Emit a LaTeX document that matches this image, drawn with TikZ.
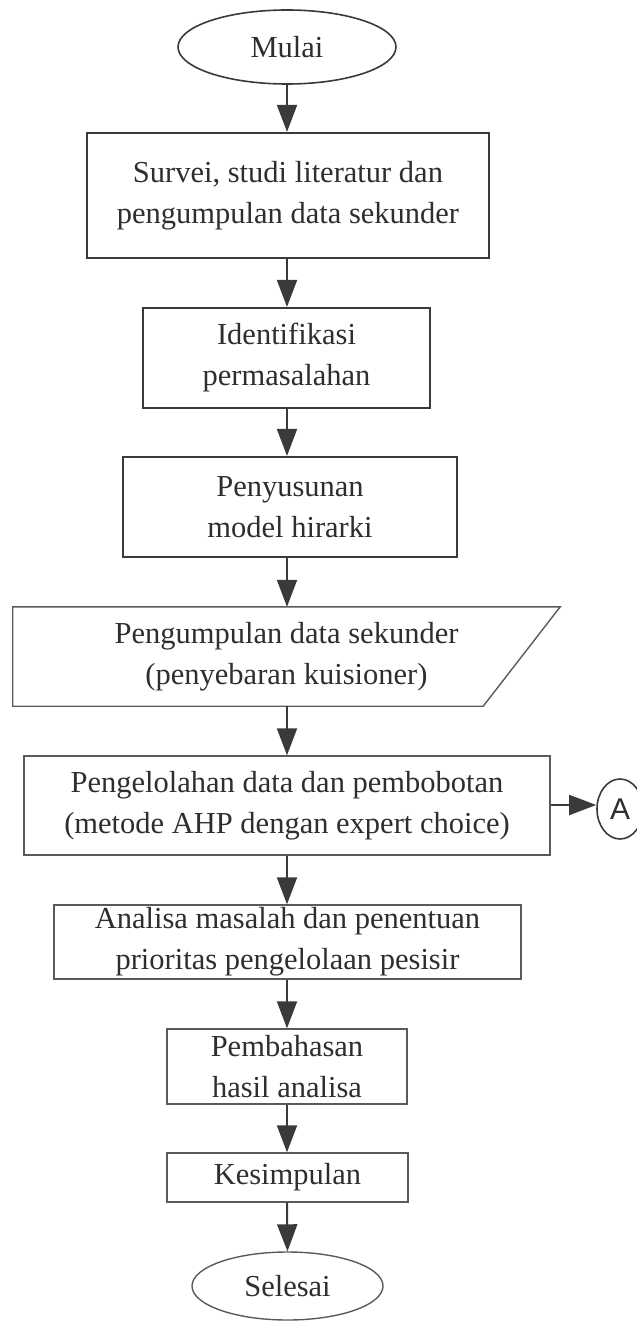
\documentclass[tikz,border=0pt]{standalone}
\usepackage{fontspec}
\setmainfont{Liberation Serif}
\newfontfamily\sansA{Liberation Sans}
\usetikzlibrary{shapes.geometric,arrows.meta,calc}
\definecolor{ink}{HTML}{2E2E2E}
\definecolor{edge}{HTML}{3A3A3A}
\definecolor{edgelight}{HTML}{5A5A5A}
\begin{document}
\begin{tikzpicture}[x=1bp,y=1bp,
  every node/.style={font=\fontsize{30.5bp}{41bp}\selectfont, text=ink, align=center, inner sep=0pt},
  term/.style={ellipse, draw=edge, line width=1.6bp},
  boxA/.style={rectangle, draw=edge, line width=2.2bp},
  boxB/.style={rectangle, draw=edgelight, line width=1.4bp},
  arr/.style={draw=edge, line width=2bp, -{Triangle[length=27bp,width=20bp]}, fill=edge}
]
\useasboundingbox (0,0) rectangle (637,-1322);
% nodes
\node[term, minimum width=218bp, minimum height=74bp] (m) at (287,-47) {Mulai};
\node[boxA, minimum width=402bp, minimum height=125bp] (b1) at (288,-195.5) {Survei, studi literatur dan\\pengumpulan data sekunder};
\node[boxA, minimum width=287bp, minimum height=100bp] (b2) at (286.5,-358) {Identifikasi\\permasalahan};
\node[boxA, minimum width=334bp, minimum height=100bp] (b3) at (290,-507) {Penyusunan\\model hirarki};
\node[minimum width=470bp, minimum height=99bp] (p) at (286.5,-656.5) {Pengumpulan data sekunder\\(penyebaran kuisioner)};
\draw[edgelight, line width=1.4bp] ($(p.north west)+(-38.5,0)$) -- ($(p.north east)+(38.5,0)$) -- ($(p.south east)+(-38.5,0)$) -- ($(p.south west)+(-38.5,0)$) -- cycle;
\node[boxB, minimum width=526bp, minimum height=99bp] (b5) at (287,-805.5) {Pengelolahan data dan pembobotan\\(metode AHP dengan expert choice)};
\node[ellipse, draw=edge, line width=1.6bp, minimum width=46bp, minimum height=60bp, font=\sansA\fontsize{30bp}{36bp}\selectfont] (a) at (620,-809) {A};
\node[boxB, minimum width=467bp, minimum height=74bp] (b6) at (287.5,-942) {Analisa masalah dan penentuan\\prioritas pengelolaan pesisir};
\node[boxB, minimum width=240bp, minimum height=75bp] (b7) at (287,-1066.5) {Pembahasan\\hasil analisa};
\node[boxB, minimum width=241bp, minimum height=49bp] (b8) at (287.5,-1177.5) {Kesimpulan};
\node[ellipse, draw=edgelight, line width=1.4bp, minimum width=191bp, minimum height=68bp] (s) at (287.5,-1286) {Selesai};
% connectors
\draw[arr] (m.south) -- (m.south |- b1.north);
\draw[arr] (b1.south -| m.south) -- (m.south |- b2.north);
\draw[arr] (b2.south -| m.south) -- (m.south |- b3.north);
\draw[arr] (b3.south -| m.south) -- (m.south |- p.north);
\draw[arr] (p.south -| m.south) -- (m.south |- b5.north);
\draw[arr] (b5.east |- 0,-805) -- (a.west |- 0,-805);
\draw[arr] (b5.south -| m.south) -- (m.south |- b6.north);
\draw[arr] (b6.south -| m.south) -- (m.south |- b7.north);
\draw[arr] (b7.south -| m.south) -- (m.south |- b8.north);
\draw[arr] (b8.south -| m.south) -- (s.north);
\end{tikzpicture}
\end{document}
